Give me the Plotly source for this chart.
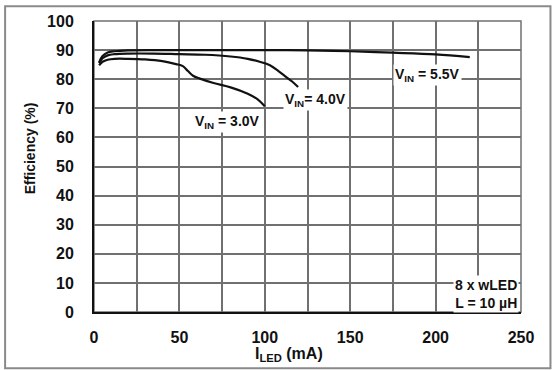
import plotly.graph_objects as go

# ---- data (I_LED in mA, efficiency in %) ----
x_55 = [3, 5, 8, 12, 20, 35, 50, 75, 100, 125, 150, 175, 200, 220]
y_55 = [85.8, 88.0, 89.2, 89.6, 89.9, 90.0, 90.0, 90.0, 90.0, 89.9, 89.6, 89.1, 88.5, 87.6]

x_40 = [3, 5, 8, 12, 20, 35, 50, 65, 80, 90, 97, 103, 108, 112, 116, 119.5]
y_40 = [85.5, 87.2, 88.2, 88.6, 88.8, 88.8, 88.6, 88.4, 87.8, 87.0, 86.0, 84.8, 82.8, 81.0, 79.2, 77.3]

x_30 = [3, 5, 8, 12, 20, 30, 40, 48, 52, 55, 58, 62, 70, 80, 90, 96, 100]
y_30 = [84.8, 86.0, 86.7, 87.0, 87.0, 86.8, 86.2, 85.2, 84.5, 82.8, 81.2, 80.2, 78.7, 77.2, 75.0, 73.0, 70.7]

x_ticks = [0, 50, 100, 150, 200, 250]
y_ticks = [0, 10, 20, 30, 40, 50, 60, 70, 80, 90, 100]

labels = ["V<sub>IN</sub> = 3.0V", "V<sub>IN</sub>= 4.0V", "V<sub>IN</sub> = 5.5V"]

W, H = 554, 370
L, R, T, B = 94, 521.5, 20.7, 311.7

def px(xp):
    return (xp - L) / (R - L)

def py(yp):
    return (B - yp) / (B - T)

FONT = "Liberation Sans, Arial, sans-serif"

fig = go.Figure()
for xs, ys in [(x_55, y_55), (x_40, y_40), (x_30, y_30)]:
    fig.add_trace(go.Scatter(x=xs, y=ys, mode="lines", line=dict(color="#111", width=2.2, shape="spline"),
                             showlegend=False, hoverinfo="skip"))

grid = "#707070"
fig.update_layout(
    width=W, height=H,
    margin=dict(l=L, r=W - R, t=T, b=H - B, pad=0),
    paper_bgcolor="white", plot_bgcolor="white",
    font=dict(family=FONT, color="#111"),
    xaxis=dict(range=[0, 250], tickvals=x_ticks, ticktext=[str(v) for v in x_ticks],
               showgrid=True, gridcolor=grid, gridwidth=1.5,
               minor=dict(dtick=25, tick0=0, showgrid=True, gridcolor=grid, gridwidth=1.5),
               ticks="outside", ticklen=10, tickcolor="rgba(0,0,0,0)",
               tickfont=dict(family=FONT, size=16, color="#111", weight="bold"),
               showline=True, linecolor="#111", linewidth=2, mirror=False, zeroline=False, fixedrange=True),
    yaxis=dict(range=[0, 100], tickvals=y_ticks, ticktext=[str(v) for v in y_ticks],
               showgrid=True, gridcolor=grid, gridwidth=1.5,
               ticks="outside", ticklen=15, tickcolor="rgba(0,0,0,0)",
               tickfont=dict(family=FONT, size=16, color="#111", weight="bold"),
               showline=True, linecolor="#111", linewidth=2, mirror=False, zeroline=False, fixedrange=True),
)

# plot-area top/right border
fig.add_shape(type="rect", xref="paper", yref="paper", x0=0, y0=0, x1=1, y1=1,
              line=dict(color=grid, width=1.5), layer="below")
# outer figure border
fig.add_shape(type="rect", xref="paper", yref="paper", x0=px(5), x1=px(551), y0=py(368), y1=py(6),
              line=dict(color="#8a8a8a", width=2))

ann = [
    (labels[0], px(228), py(122)),
    (labels[1], px(316), py(100)),
    (labels[2], px(428), py(75)),
]
for txt, ax_, ay_ in ann:
    fig.add_annotation(text=txt, x=ax_, y=ay_, xref="paper", yref="paper", showarrow=False,
                       font=dict(family=FONT, size=14, color="#111", weight="bold"),
                       bgcolor="white", xanchor="center", yanchor="middle", borderpad=1)

fig.add_annotation(text="8 x wLED<br>L = 10 µH", x=px(519), y=py(294), xref="paper", yref="paper",
                   showarrow=False, align="right", xanchor="right", yanchor="middle",
                   font=dict(family=FONT, size=14, color="#111", weight="bold"), bgcolor="white", borderpad=1)

fig.add_annotation(text="I<sub>LED</sub> (mA)", x=px(289), y=py(354), xref="paper", yref="paper",
                   showarrow=False, xanchor="center", yanchor="middle",
                   font=dict(family=FONT, size=16, color="#111", weight="bold"))
fig.add_annotation(text="Efficiency (%)", x=px(30), y=py(148), xref="paper", yref="paper",
                   showarrow=False, xanchor="center", yanchor="middle", textangle=-90,
                   font=dict(family=FONT, size=14, color="#111", weight="bold"))

fig.write_html("out.html")
